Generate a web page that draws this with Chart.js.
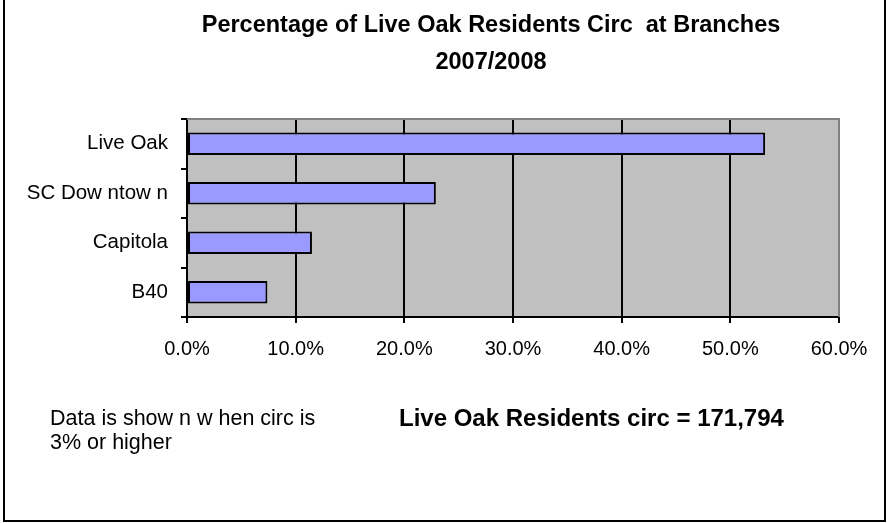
<!DOCTYPE html>
<html>
<head>
<meta charset="utf-8">
<script src="https://cdn.jsdelivr.net/npm/chart.js@4.4.1/dist/chart.umd.min.js"></script>
<style>
  html, body { margin: 0; padding: 0; background: #ffffff; }
  canvas { display: block; }
</style>
</head>
<body>
<canvas id="chart" width="889" height="523"></canvas>
<script>
'use strict';

// values
const branches = ['Live Oak', 'SC Dow ntow n', 'Capitola', 'B40'];
const circShare = [53.2, 22.9, 11.5, 7.4];
const axisMin = 0;
const axisMax = 60;
const axisStep = 10;

const titleLines = ['Percentage of Live Oak Residents Circ  at Branches', '2007/2008'];
const noteLines = ['Data is show n w hen circ is', '3% or higher'];
const totalNote = 'Live Oak Residents circ = 171,794';

const FONT = 'Liberation Sans, Arial, sans-serif';

// white page + grey plot area go under the grid, frame and free text go on top
const excelLook = {
  id: 'excelLook',
  beforeDraw(chart) {
    let ctx = chart.ctx;
    let a = chart.chartArea;
    ctx.save();
    ctx.fillStyle = '#ffffff';
    ctx.fillRect(0, 0, chart.width, chart.height);
    ctx.fillStyle = '#c0c0c0';
    ctx.fillRect(a.left, a.top, a.right - a.left, a.bottom - a.top);
    ctx.restore();
  },
  afterDraw(chart) {
    let ctx = chart.ctx;
    let a = chart.chartArea;
    ctx.save();
    ctx.strokeStyle = '#808080';
    ctx.lineWidth = 2;
    ctx.beginPath();
    ctx.moveTo(a.left, a.top);
    ctx.lineTo(a.right, a.top);
    ctx.lineTo(a.right, a.bottom);
    ctx.stroke();

    // outer chart frame (left, bottom, right)
    ctx.strokeStyle = '#000000';
    ctx.beginPath();
    ctx.moveTo(4, 0);
    ctx.lineTo(4, 521);
    ctx.lineTo(885, 521);
    ctx.lineTo(885, 0);
    ctx.stroke();

    ctx.fillStyle = '#000000';
    ctx.textBaseline = 'middle';
    ctx.textAlign = 'center';
    ctx.font = 'bold 23.5px ' + FONT;
    ctx.fillText(titleLines[0], 491, 26);
    ctx.fillText(titleLines[1], 491, 63);

    ctx.textAlign = 'left';
    ctx.font = '21.5px ' + FONT;
    ctx.fillText(noteLines[0], 50, 419);
    ctx.fillText(noteLines[1], 50, 443);

    ctx.font = 'bold 24px ' + FONT;
    ctx.fillText(totalNote, 399, 419);
    ctx.restore();
  }
};

let canvasElem = document.getElementById('chart');

const myChart = new Chart(canvasElem, {
  type: 'bar',
  data: {
    labels: branches,
    datasets: [{
      label: 'Share of circ',
      data: circShare,
      backgroundColor: '#9999ff',
      borderColor: '#000000',
      borderWidth: 2,
      borderSkipped: false,
      barPercentage: 0.45,
      categoryPercentage: 1
    }]
  },
  options: {
    indexAxis: 'y',
    responsive: false,
    animation: false,
    layout: {
      padding: { left: 0, top: 119, right: 50, bottom: 0 }
    },
    plugins: {
      legend: { display: false },
      tooltip: { enabled: false }
    },
    scales: {
      x: {
        min: axisMin,
        max: axisMax,
        ticks: {
          stepSize: axisStep,
          color: '#000000',
          font: { family: FONT, size: 20 },
          padding: 14,
          maxRotation: 0,
          callback: (v) => v.toFixed(1) + '%'
        },
        grid: {
          color: '#000000',
          lineWidth: 2,
          tickLength: 6,
          tickColor: '#000000',
          tickWidth: 2
        },
        border: { color: '#000000', width: 2 },
        afterFit: (scale) => { scale.height = 206; }
      },
      y: {
        ticks: {
          color: '#000000',
          font: { family: FONT, size: 20.5 },
          padding: 13
        },
        grid: {
          drawOnChartArea: false,
          color: '#000000',
          lineWidth: 2,
          tickLength: 6
        },
        border: { color: '#000000', width: 2 },
        afterFit: (scale) => { scale.width = 187; }
      }
    }
  },
  plugins: [excelLook]
});
</script>
</body>
</html>
